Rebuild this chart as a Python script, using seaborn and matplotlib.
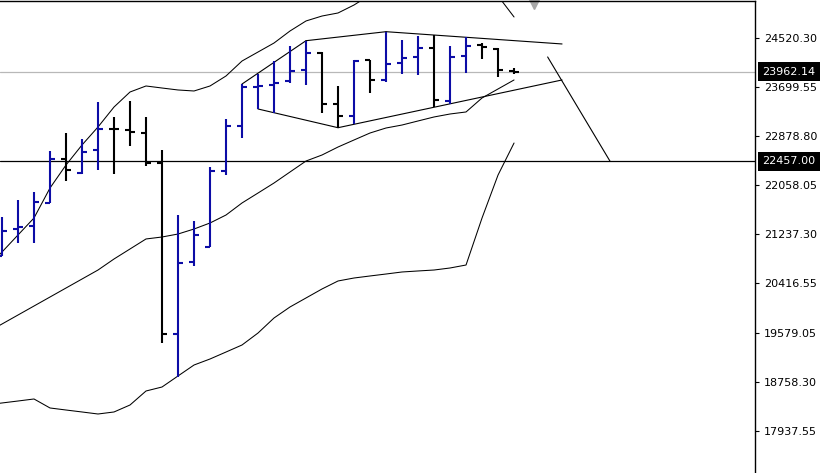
import numpy as np
import pandas as pd
import seaborn as sns
import matplotlib.pyplot as plt
import matplotlib.transforms as mtransforms

# OHLC bars, leftmost visible bar first
opens = [20872, 21315, 21376, 21762, 22500, 22265, 22646, 23003, 22982, 22936,
         22423, 19558, 20772, 21023, 22294, 23049, 23708, 23737, 23804, 23988,
         24269, 23413, 23222, 24151, 23821, 24101, 24212, 24363, 23473, 24223,
         24408, 24336, 23975]
highs = [21527, 21807, 21936, 22629, 22926, 22825, 23456, 23205, 23468, 23205,
         22646, 21555, 21455, 22356, 23161, 23753, 23921, 24144, 24391, 24480,
         24295, 23720, 24156, 24156, 24631, 24492, 24559, 24576, 24391, 24542,
         24436, 24352, 24017]
lows = [20872, 21080, 21080, 21762, 22126, 22243, 22310, 22243, 22713, 22383,
        19402, 18832, 20699, 21023, 22226, 22842, 23334, 23272, 23775, 23737,
        23272, 23020, 23077, 23597, 23792, 23921, 23899, 23362, 23418, 23933,
        24168, 23876, 23921]
closes = [21292, 21359, 21778, 22500, 22310, 22617, 22998, 22995, 22943, 22423,
          19558, 20745, 21220, 22294, 23049, 23698, 23720, 23775, 23977, 24269,
          23418, 23222, 24144, 23821, 24084, 24185, 24363, 23485, 24212, 24386,
          24379, 23988, 23962.14]

# Bollinger bands, starting one bar before the first visible bar
upper_band = [20649, 20934, 21220, 21505, 22008, 22394, 22730, 23032, 23367, 23619,
              23720, 23686, 23653, 23636, 23720, 23888, 24139, 24290, 24441, 24643,
              24811, 24894, 24945, 25079, 25247, 25398, 25532, 25633, 25700, 25750,
              25734, 25566, 25230, 24878]
middle_band = [19575, 19726, 19877, 20028, 20179, 20330, 20481, 20632, 20817, 20985,
               21153, 21186, 21236, 21320, 21421, 21555, 21757, 21924, 22092, 22277,
               22461, 22562, 22696, 22814, 22931, 23015, 23065, 23133, 23200, 23250,
               23284, 23519, 23670, 23821]
lower_band = [18367, 18401, 18434, 18468, 18317, 18283, 18250, 18216, 18250, 18367,
              18602, 18669, 18854, 19038, 19139, 19256, 19374, 19575, 19827, 20012,
              20163, 20314, 20448, 20498, 20532, 20565, 20599, 20616, 20632, 20666,
              20716, 21505, 22226, 22763]

# hand drawn trend lines: (bar index, price) start -> end
trend_x0 = [15, 19, 24, 16, 21, 34.1]
trend_y0 = [23753, 24480, 24631, 23334, 23020, 24207]
trend_x1 = [19, 24, 35, 21, 35, 38]
trend_y1 = [24480, 24631, 24425, 23020, 23821, 22457]

y_ticks = [24520.30, 23699.55, 22878.80, 22058.05, 21237.30,
           20416.55, 19579.05, 18758.30, 17937.55]
level_line = 22457.00
bid_price = 23962.14

BULL = '#0c0ca6'
BEAR = '#000000'


def draw_bars(ax, df):
    cols = np.where(df['close'] > df['open'], BULL, BEAR)
    lw = 1.5
    ax.vlines(df['idx'], df['low'], df['high'], colors=cols, linewidth=lw)
    ax.hlines(df['open'], df['idx'] - 0.3, df['idx'], colors=cols, linewidth=lw)
    ax.hlines(df['close'], df['idx'], df['idx'] + 0.3, colors=cols, linewidth=lw)


def main():
    sns.set_style('white')
    plt.rcParams['font.family'] = ['DejaVu Sans']

    bars = pd.DataFrame({'open': opens, 'high': highs, 'low': lows, 'close': closes})
    bars['idx'] = np.arange(len(bars))
    bands = pd.DataFrame({'upper': upper_band, 'middle': middle_band, 'lower': lower_band})
    bands['idx'] = np.arange(-1, len(bands) - 1)

    fig = plt.figure(figsize=(8.29, 4.73), dpi=100)
    ax = fig.add_axes([0, 0, 755.5 / 829, 472 / 473])

    # bands
    for col in ['upper', 'middle', 'lower']:
        sns.lineplot(data=bands, x='idx', y=col, ax=ax, color='black', linewidth=0.75)

    # levels
    ax.axhline(bid_price, color='#b8b8b8', linewidth=0.9, zorder=1)
    ax.axhline(level_line, color='black', linewidth=0.9, zorder=1)

    # trend lines
    for x0, y0, x1, y1 in zip(trend_x0, trend_y0, trend_x1, trend_y1):
        ax.plot([x0, x1], [y0, y1], color='black', linewidth=0.8)

    draw_bars(ax, bars)

    # chart shift marker
    ax.plot([33.25], [0.993], marker='v', markersize=7, color='#a8a8a8',
            transform=mtransforms.blended_transform_factory(ax.transData, ax.transAxes),
            clip_on=False)

    ax.set_xlim(-0.125, 47.09)
    ax.set_ylim(17226, 25146)
    ax.set_xticks([])
    ax.set_xlabel('')
    ax.set_ylabel('')
    ax.yaxis.tick_right()
    ax.set_yticks(y_ticks)
    ax.set_yticklabels([f'{v:.2f}' for v in y_ticks])
    ax.tick_params(axis='y', direction='out', length=3, width=0.8, pad=3,
                   labelsize=8, colors='black', right=True)

    for side in ['left', 'bottom']:
        ax.spines[side].set_visible(False)
    for side in ['right', 'top']:
        ax.spines[side].set_color('black')
        ax.spines[side].set_linewidth(1.0)

    # highlighted price labels on the axis
    trans = mtransforms.blended_transform_factory(ax.transAxes, ax.transData)
    trans = mtransforms.offset_copy(trans, fig=fig, x=7, y=0, units='dots')
    for price in [bid_price, level_line]:
        ax.text(1.0, price, f'{price:.2f}', transform=trans, fontsize=8,
                color='white', va='center', ha='left',
                bbox=dict(boxstyle='square,pad=0.4', facecolor='black', edgecolor='none'))

    fig.savefig('out.png', dpi=100, facecolor='white')
    plt.close(fig)


if __name__ == '__main__':
    main()
